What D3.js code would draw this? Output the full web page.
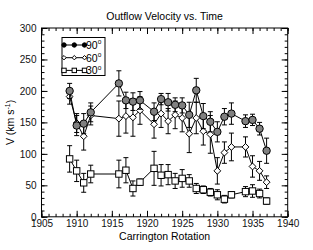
<!DOCTYPE html>
<html>
<head>
<meta charset="utf-8">
<script src="https://cdn.jsdelivr.net/npm/d3@7"></script>
<style>
  body { margin: 0; background: #fff; }
  svg { display: block; font-family: "Liberation Sans", Arial, sans-serif; }
</style>
</head>
<body>
<div id="chart"></div>
<script>
// Carrington rotations sampled by every series.
const rotations = [1909, 1910, 1911, 1912, 1916, 1917, 1918, 1919, 1921, 1922,
  1923, 1924, 1925, 1926, 1927, 1928, 1929, 1930, 1931, 1932, 1934, 1935, 1936, 1937];

// Outflow velocity (km/s) and its error, per latitude.
const v90 = [200, 145, 148, 166, 212, 185, 183, 185, 167, 187,
  182, 178, 177, 162, 201, 160, 151, 135, 159, 164, 152, 154, 140, 105];
const e90 = [12, 16, 16, 15, 20, 13, 14, 14, 14, 9,
  14, 11, 12, 20, 19, 20, 16, 16, 13, 17, 10, 9, 10, 20];

const v60 = [191, 149, 128, 161, 156, 160, 158, 169, 147, 164,
  152, 162, 157, 132, 157, 136, 131, 73, 102, 111, 111, 80, 73, 55];
const e60 = [12, 15, 22, 15, 28, 27, 30, 22, 22, 22,
  20, 22, 22, 30, 25, 22, 30, 21, 17, 22, 16, 17, 15, 10];

const v30 = [92, 73, 54, 68, 68, 74, 45, 55, 77, 66,
  67, 57, 61, 57, 45, 43, 39, 35, 28, 35, 40, 41, 37, 25];
const e30 = [21, 17, 15, 14, 22, 20, 12, 5, 27, 17,
  16, 12, 14, 10, 8, 6, 6, 8, 6, 5, 8, 10, 7, 5];

const legendLabels = ["90", "60", "30"];
const xTicks = [1905, 1910, 1915, 1920, 1925, 1930, 1935, 1940];
const yTicks = [0, 50, 100, 150, 200, 250, 300];

const width = 313;
const height = 250;
const margin = { top: 28, right: 25.3, bottom: 33.2, left: 41.5 };

const svg = d3.select("#chart")
  .append("svg")
    .attr("width", width)
    .attr("height", height);

const x = d3.scaleLinear()
  .domain([1905, 1940])
  .range([margin.left, width - margin.right]);

const y = d3.scaleLinear()
  .domain([0, 300])
  .range([height - margin.bottom, margin.top]);

const x0 = x.range()[0], x1 = x.range()[1];
const y0 = y.range()[0], y1 = y.range()[1];

// Axes: inward ticks on all four sides, minor ticks every 1 / every 10.
function drawAxis(axis, transform, labels) {
  const g = svg.append("g")
    .attr("transform", transform)
    .call(axis);
  g.select(".domain").remove();
  g.selectAll("line").attr("stroke", "#000").attr("stroke-width", 1);
  if (!labels) g.selectAll("text").remove();
  return g;
}

const xMinor = d3.range(1905, 1941);
const yMinor = d3.range(0, 301, 10);

drawAxis(d3.axisBottom(x).tickValues(xMinor).tickSize(-3).tickFormat(""), `translate(0,${y0})`, false);
drawAxis(d3.axisTop(x).tickValues(xMinor).tickSize(-3).tickFormat(""), `translate(0,${y1})`, false);
drawAxis(d3.axisLeft(y).tickValues(yMinor).tickSize(-3).tickFormat(""), `translate(${x0},0)`, false);
drawAxis(d3.axisRight(y).tickValues(yMinor).tickSize(-3).tickFormat(""), `translate(${x1},0)`, false);

const xAxis = drawAxis(d3.axisBottom(x).tickValues(xTicks).tickSize(-6).tickPadding(3).tickFormat(d3.format("d")),
  `translate(0,${y0})`, true);
drawAxis(d3.axisTop(x).tickValues(xTicks).tickSize(-6).tickFormat(""), `translate(0,${y1})`, false);
const yAxis = drawAxis(d3.axisLeft(y).tickValues(yTicks).tickSize(-6).tickPadding(5),
  `translate(${x0},0)`, true);
drawAxis(d3.axisRight(y).tickValues(yTicks).tickSize(-6).tickFormat(""), `translate(${x1},0)`, false);

xAxis.selectAll("text").attr("font-size", 10).attr("fill", "#111");
yAxis.selectAll("text").attr("font-size", 10).attr("fill", "#111");

svg.append("rect")
  .attr("x", x0).attr("y", y1)
  .attr("width", x1 - x0).attr("height", y0 - y1)
  .attr("fill", "none").attr("stroke", "#000");

// Titles.
svg.append("text")
  .attr("x", (x0 + x1) / 2).attr("y", 20)
  .attr("text-anchor", "middle").attr("font-size", 10.5)
  .text("Outflow Velocity vs. Time");

svg.append("text")
  .attr("x", (x0 + x1) / 2).attr("y", 239.5)
  .attr("text-anchor", "middle").attr("font-size", 10.5)
  .text("Carrington Rotation");

const yLabel = svg.append("text")
  .attr("transform", `translate(13.5,${(y0 + y1) / 2}) rotate(-90)`)
  .attr("text-anchor", "middle").attr("font-size", 10.5);
yLabel.append("tspan").text("V (km s");
yLabel.append("tspan").attr("font-size", 7).attr("dy", -4).text("-1");
yLabel.append("tspan").attr("dy", 4).text(")");

// Marker shapes.
const markers = {
  circle: (g, r, fill) => g.append("circle").attr("r", r).attr("fill", fill),
  diamond: (g, r, fill) => g.append("path")
    .attr("d", `M0,${-r}L${r},0L0,${r}L${-r},0Z`).attr("fill", fill),
  square: (g, r, fill) => g.append("rect")
    .attr("x", -r).attr("y", -r).attr("width", 2 * r).attr("height", 2 * r).attr("fill", fill),
};

const series = [
  { values: v30, errors: e30, shape: "square", size: 3.2, fill: "#fff" },
  { values: v60, errors: e60, shape: "diamond", size: 3.4, fill: "#fff" },
  { values: v90, errors: e90, shape: "circle", size: 3.7, fill: "#808080" },
];

const line = d3.line()
  .x(d => x(d.r))
  .y(d => y(d.v));

series.forEach(s => {
  const pts = rotations.map((r, i) => ({ r, v: s.values[i], e: s.errors[i] }));
  const g = svg.append("g");

  g.append("path")
    .datum(pts)
    .attr("d", line)
    .attr("fill", "none")
    .attr("stroke", "#000")
    .attr("stroke-width", 1);

  // Error bars with caps.
  const bars = g.selectAll(".err")
    .data(pts)
    .enter()
    .append("g")
      .attr("stroke", "#000")
      .attr("stroke-width", 1);
  bars.append("line")
    .attr("x1", d => x(d.r)).attr("x2", d => x(d.r))
    .attr("y1", d => y(d.v - d.e)).attr("y2", d => y(d.v + d.e));
  bars.append("line")
    .attr("x1", d => x(d.r) - 2.5).attr("x2", d => x(d.r) + 2.5)
    .attr("y1", d => y(d.v + d.e)).attr("y2", d => y(d.v + d.e));
  bars.append("line")
    .attr("x1", d => x(d.r) - 2.5).attr("x2", d => x(d.r) + 2.5)
    .attr("y1", d => y(d.v - d.e)).attr("y2", d => y(d.v - d.e));

  g.selectAll(".pt")
    .data(pts)
    .enter()
    .append("g")
      .attr("transform", d => `translate(${x(d.r)},${y(d.v)})`)
      .each(function () {
        markers[s.shape](d3.select(this), s.size, s.fill)
          .attr("stroke", "#000").attr("stroke-width", 1);
      });
});

// Legend box.
const legend = svg.append("g");
legend.append("rect")
  .attr("x", 62).attr("y", 37.5)
  .attr("width", 43).attr("height", 38)
  .attr("fill", "#fff").attr("stroke", "#000");

const legendShapes = [
  { shape: "circle", fill: "#000" },
  { shape: "diamond", fill: "#fff" },
  { shape: "square", fill: "#fff" },
];

legendLabels.forEach((label, i) => {
  const ly = 45 + i * 12.7;
  const row = legend.append("g");
  row.append("line")
    .attr("x1", 64).attr("x2", 84.5)
    .attr("y1", ly).attr("y2", ly)
    .attr("stroke", "#000");
  [64, 74.3, 84.5].forEach(lx => {
    const m = row.append("g").attr("transform", `translate(${lx},${ly})`);
    markers[legendShapes[i].shape](m, 2.2, legendShapes[i].fill)
      .attr("stroke", "#000").attr("stroke-width", 1);
  });
  const t = row.append("text")
    .attr("x", 86).attr("y", ly + 3.8)
    .attr("font-size", 10.5);
  t.append("tspan").text(label);
  t.append("tspan").attr("font-size", 6.5).attr("dy", -4.5).text("o");
});
</script>
</body>
</html>
